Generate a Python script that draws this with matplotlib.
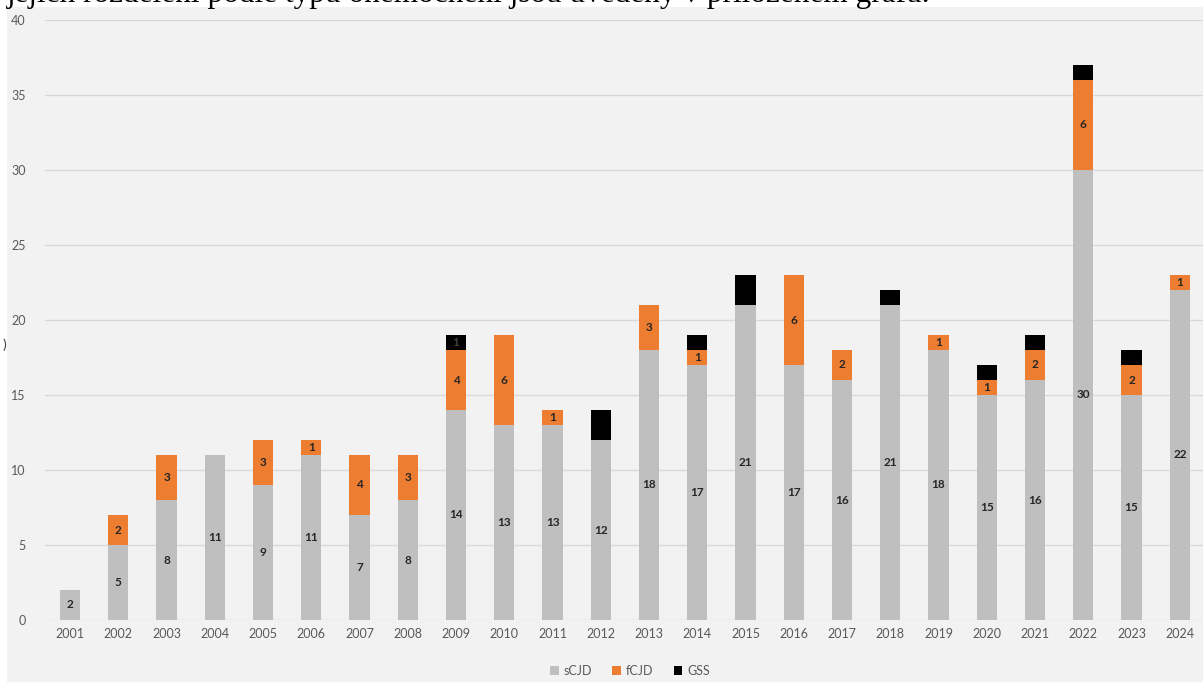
import numpy as np
import matplotlib
matplotlib.use('Agg')
import matplotlib.pyplot as plt
from matplotlib.patches import Rectangle

# Data
years = [str(y) for y in range(2001, 2025)]
scjd = [2, 5, 8, 11, 9, 11, 7, 8, 14, 13, 13, 12, 18, 17, 21, 17, 16, 21, 18, 15, 16, 30, 15, 22]
fcjd = [0, 2, 3, 0, 3, 1, 4, 3, 4, 6, 1, 0, 3, 1, 0, 6, 2, 0, 1, 1, 2, 6, 2, 1]
gss = [0, 0, 0, 0, 0, 0, 0, 0, 1, 0, 0, 2, 0, 1, 2, 0, 0, 1, 0, 1, 1, 1, 1, 0]
gss_labelled = ['2009']

plt.rcParams['font.family'] = ['Lato', 'DejaVu Sans']

W, H = 1203, 682
fig = plt.figure(figsize=(W / 100, H / 100), dpi=100)
fig.patch.set_facecolor('white')

# grey chart panel (the screenshot's chart area)
fig.patches.append(Rectangle((7 / W, 0), 1 - 7 / W, 1 - 7 / H, transform=fig.transFigure,
                             facecolor='#f2f2f2', edgecolor='none', zorder=0))

# cut-off line of text above the chart (cropped in the source screenshot)
fig.text(0.006, 1.0 + 6 / H, 'jejich rozdělení podle typu onemocnění jsou uvedeny v přiloženém grafu.',
         family='Liberation Serif', fontsize=22.5, va='center', ha='left', color='black')
# cut-off axis title remnant
fig.text(0.002, 1 - 345 / H, ')', fontsize=10, color='#404040', va='center', ha='left')

ax = fig.add_axes([45 / W, 1 - 620 / H, 1 - 45 / W, (620 - 20) / H])
ax.set_facecolor('none')
ax.set_zorder(2)

x = np.arange(len(years))
s = np.array(scjd)
f = np.array(fcjd)
g = np.array(gss)
w = 0.42
ax.bar(x, s, w, color='#bfbfbf', label='sCJD', zorder=3)
ax.bar(x, f, w, bottom=s, color='#ed7d31', label='fCJD', zorder=3)
ax.bar(x, g, w, bottom=s + f, color='#000000', label='GSS', zorder=3)

for i in range(len(years)):
    if s[i] > 0:
        ax.text(x[i], s[i] / 2, str(s[i]), ha='center', va='center', fontsize=8.5,
                fontweight='bold', color='#262626', zorder=4)
    if f[i] > 0:
        ax.text(x[i], s[i] + f[i] / 2, str(f[i]), ha='center', va='center', fontsize=8.5,
                fontweight='bold', color='#262626', zorder=4)
    if g[i] > 0 and years[i] in gss_labelled:
        ax.text(x[i], s[i] + f[i] + g[i] / 2, str(g[i]), ha='center', va='center', fontsize=8.5,
                fontweight='bold', color='#404040', zorder=4)

ax.set_xlim(-0.52, 23.48)
ax.set_ylim(0, 40)
ax.set_yticks(range(0, 41, 5))
ax.set_xticks(x)
ax.set_xticklabels(years)
ax.yaxis.grid(True, color='#d9d9d9', linewidth=1, zorder=0)
ax.set_axisbelow(True)
for sp in ax.spines.values():
    sp.set_visible(False)
ax.tick_params(length=0, labelsize=9, colors='#595959')
ax.tick_params(axis='y', pad=14)
ax.tick_params(axis='x', pad=6)

fig.legend(loc='center', bbox_to_anchor=(630 / W, 1 - 671 / H), ncol=3, frameon=False,
           fontsize=9, handlelength=0.7, handleheight=0.7, columnspacing=1.6,
           handletextpad=0.4, labelcolor='#595959')

fig.savefig('out.png', dpi=100, facecolor='white')
